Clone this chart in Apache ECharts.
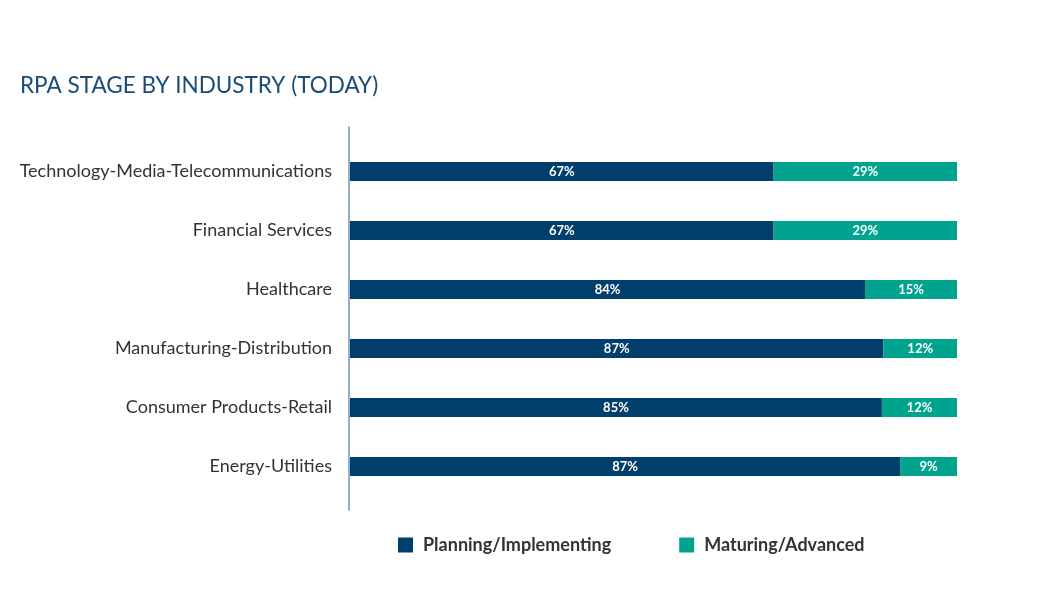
<!DOCTYPE html>
<html><head><meta charset="utf-8">
<script src="https://cdn.jsdelivr.net/npm/echarts@6/dist/echarts.min.js"></script>
<style>html,body{margin:0;padding:0;background:#fff}#c{width:1045px;height:612px}</style>
</head><body><div id="c"></div>
<script>
const categories = ['Technology-Media-Telecommunications','Financial Services','Healthcare','Manufacturing-Distribution','Consumer Products-Retail','Energy-Utilities'];
const planning = [67, 67, 84, 87, 85, 87];
const maturing = [29, 29, 15, 12, 12, 9];
const seriesNames = ['Planning/Implementing', 'Maturing/Advanced'];

const totals = planning.map((v, i) => v + maturing[i]);
const share = (arr) => arr.map((v, i) => ({ value: v / totals[i] * 100, raw: v }));

const chart = echarts.init(document.getElementById('c'));
const labelStyle = { show: true, position: 'inside', color: '#fff', fontFamily: 'Lato', fontWeight: 'bold', fontSize: 13,
  formatter: p => p.data.raw + '%' };
chart.setOption({
  animation: false,
  title: { text: 'RPA STAGE BY INDUSTRY (TODAY)', left: 15, top: 69,
    textStyle: { fontFamily: 'Lato', fontWeight: 'normal', fontSize: 22.5, color: '#1b4b77' } },
  legend: { data: seriesNames, left: 398, top: 536, itemWidth: 15, itemHeight: 15, itemGap: 68, icon: 'rect', padding: 0,
    textStyle: { fontFamily: 'Lato', fontWeight: 'bold', fontSize: 18, color: '#333', padding: [0, 0, 0, 5] } },
  grid: [
    { left: 350, right: 88, top: 142, bottom: 116 },
    { left: 349, right: 88, top: 127, bottom: 102 }
  ],
  xAxis: [
    { type: 'value', min: 0, max: 100, show: false, gridIndex: 0 },
    { type: 'value', min: 0, max: 1, show: false, gridIndex: 1 }
  ],
  yAxis: [
    { type: 'category', data: categories, inverse: true, gridIndex: 0,
      axisLine: { show: false }, axisTick: { show: false },
      axisLabel: { margin: 18, fontFamily: 'Lato', fontSize: 18, color: '#333' } },
    { type: 'value', gridIndex: 1, min: 0, max: 1,
      axisLine: { show: true, lineStyle: { color: '#6f95b8', width: 1.5 } },
      axisTick: { show: false }, axisLabel: { show: false }, splitLine: { show: false } }
  ],
  series: [
    { name: seriesNames[0], type: 'bar', stack: 's', barWidth: 19, data: share(planning),
      itemStyle: { color: '#003f6b' }, label: labelStyle },
    { name: seriesNames[1], type: 'bar', stack: 's', barWidth: 19, data: share(maturing),
      itemStyle: { color: '#00a38e' }, label: labelStyle }
  ]
});
</script></body></html>
